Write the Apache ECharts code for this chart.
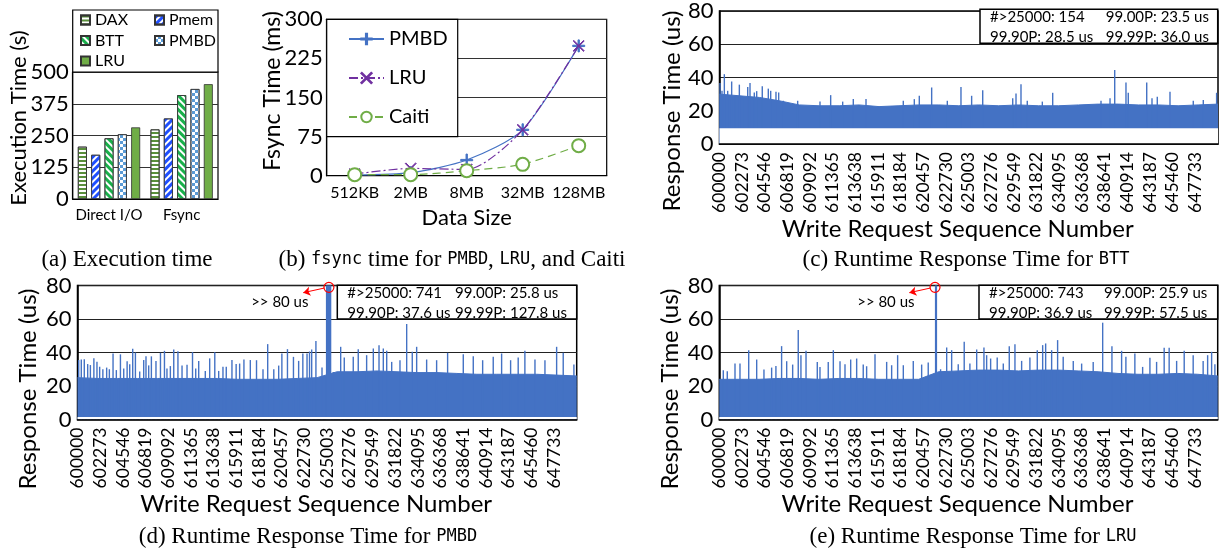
<!DOCTYPE html>
<html>
<head>
<meta charset="utf-8">
<script src="https://cdn.jsdelivr.net/npm/echarts@6.0.0/dist/echarts.min.js"></script>
<style>
html, body { margin: 0; background: #fff; }
#main { width: 1219px; height: 552px; }
</style>
</head>
<body>
<div id="main"></div>
<script>
// (a) execution time
const ioModes = ['Direct I/O', 'Fsync'];
const daxTime = [206, 274];
const pmemTime = [174, 317];
const bttTime = [239, 409];
const pmbdTime = [255, 433];
const lruTime = [282, 452];

// (b) fsync time
const dataSizes = ['512KB', '2MB', '8MB', '32MB', '128MB'];
const pmbdFsync = [1.3, 5.8, 30, 88, 249];
const lruFsync = [3.2, 14, 12, 88, 249];
const caitiFsync = [2, 2, 9.6, 21.8, 57.6];

// (c)(d)(e) runtime response time
const seqTicks = [600000, 602273, 604546, 606819, 609092, 611365, 613638, 615911, 618184, 620457,
	622730, 625003, 627276, 629549, 631822, 634095, 636368, 638641, 640914, 643187, 645460, 647733];
const envSeq = [600000, 602000, 604000, 606000, 608000, 610000, 612000, 614000, 616000, 618000, 620000, 622000, 624000,
	626000, 628000, 630000, 632000, 634000, 636000, 638000, 640000, 642000, 644000, 646000, 648000, 650000];

// BTT
const bttEnvelope = [30, 29, 28, 26, 23.5, 23, 23, 23.5, 22.5, 23, 23.5, 23.5, 23, 23.5, 23, 23.5, 23, 23, 23.5, 24, 24, 23.5, 23.5, 23, 23.5, 24];
const bttFloor = 9.5;
const bttSpikes = [[600050, 36.7], [600250, 32], [600485, 42], [600820, 32], [601220, 37.6], [601555, 29], [601990, 35.7], [602460, 28],
	[602830, 34.3], [603060, 36.7], [603490, 31], [603730, 31.8], [604290, 34.7], [604895, 33.3], [605135, 32], [605665, 31.4],
	[605935, 31], [606400, 26], [607840, 26], [610080, 25.5], [611150, 29.4], [612355, 25.5], [613420, 27], [614695, 27],
	[618435, 26], [619540, 27], [620040, 29], [621280, 34], [622850, 26], [624220, 34.3], [625290, 29], [626400, 32.3],
	[629410, 27.5], [629740, 30.4], [630240, 36], [630870, 26], [632380, 25.5], [633420, 30.8], [638265, 26], [639170, 27.5],
	[639640, 44.5], [640770, 37], [641000, 30.8], [642850, 37], [643380, 27.5], [643910, 28.4], [645185, 31.4], [647520, 26],
	[648525, 26.5], [649860, 30.8]];
const bttStats = ['#>25000: 154', '99.00P: 23.5 us', '99.90P: 28.5 us', '99.99P: 36.0 us'];

// PMBD
const pmbdEnvelope = [25, 24.5, 24.5, 24.5, 24.5, 24.5, 24.5, 24.5, 24, 24, 24, 24.5, 25, 28.5, 28.5, 29, 28.5, 28, 28, 27.5, 27, 27, 27, 27, 26.5, 26];
const pmbdFloor = 1.5;
const pmbdSpikes = [[600120, 35.5], [600380, 35.8], [600680, 35.9], [601020, 33.1], [601290, 32.5], [601640, 36.5], [601950, 34.5],
	[602220, 31.5], [602540, 30], [602920, 31], [603190, 30], [603560, 39.4], [603890, 29.5], [604300, 38.9], [604630, 30.5],
	[604970, 34.8], [605230, 33], [605530, 42.2], [605800, 40], [606230, 28.7], [606630, 35.5], [606860, 37.8], [607130, 32.3],
	[607400, 37.7], [607860, 35], [608310, 39.8], [608710, 41], [608960, 30.5], [609300, 31.9], [609640, 41.8], [610060, 40.8],
	[610470, 32.3], [610970, 32.7], [611520, 40.2], [611840, 30.5], [612140, 35], [612800, 29], [613240, 36.5], [613750, 40.2],
	[614140, 29], [614570, 31.5], [614900, 31.5], [615470, 35.5], [615890, 33.2], [616240, 33.4], [616670, 35.8], [617310, 35.5],
	[617930, 35.4], [618580, 30], [619050, 45], [619660, 30], [620150, 32.2], [620470, 39.4], [621030, 42], [621630, 37.4],
	[622150, 35], [622570, 39.4], [622990, 39.4], [623240, 40.6], [623455, 41.8], [623880, 46.8], [624490, 31],
	[624950, 95], [625050, 95], [625150, 95], [625250, 95], [625350, 95],
	[625620, 28.4], [626360, 43.4], [626720, 37], [627620, 37.4], [628120, 42], [628960, 38.4], [629630, 42.4], [630200, 44.4],
	[630630, 42.4], [630970, 41], [631470, 34.4], [632300, 35.4], [632970, 57], [633530, 40.4], [633970, 43.4], [634970, 35.8],
	[635970, 35.4], [637070, 39.8], [638640, 39], [639640, 37.8], [640580, 35.4], [641640, 37.4], [642480, 39.4], [643380, 35.4],
	[644140, 37], [644810, 41], [645820, 35.8], [646820, 35.4], [647990, 43.4], [648650, 39.8], [649720, 32.8]];
const pmbdStats = ['#>25000: 741', '99.00P: 25.8 us', '99.90P: 37.6 us', '99.99P: 127.8 us'];

// LRU
const lruEnvelope = [24, 24, 24, 24.5, 24.5, 24, 24.5, 24.5, 24, 24, 24, 28.5, 29, 29.5, 29.5, 29, 29.5, 29.5, 29, 28.5, 27.5, 27, 27, 27.5, 27, 26];
const lruFloor = 1.5;
const lruSpikes = [[600400, 29.4], [600800, 28.8], [601575, 33.4], [602075, 33.4], [602950, 41.4], [603750, 35.8], [604480, 29.8],
	[605250, 31], [605680, 32], [606250, 43.8], [606760, 34.8], [607360, 32.8], [607920, 53.4], [608190, 38.4], [608700, 41],
	[609830, 34.4], [610100, 31.4], [610930, 34.4], [611440, 41.4], [612110, 34.8], [612610, 33], [613180, 35.8], [613780, 36.4],
	[614440, 32.8], [614780, 31.8], [615620, 39], [616790, 34.4], [617290, 32.4], [617890, 38.4], [618460, 32.4], [619460, 35],
	[620300, 32.8], [620960, 34], [621700, 95], [621780, 95], [622200, 30], [622810, 43], [623310, 41.4], [623970, 33],
	[624570, 46.4], [625140, 33.4], [625820, 41.8], [626550, 43], [626820, 38.4], [627220, 36.4], [627880, 37], [628490, 33.4],
	[629090, 43.8], [629660, 45], [630330, 35], [631160, 37], [631900, 41.4], [632440, 44.4], [632740, 45.4], [633340, 41.4],
	[633940, 47.4], [634500, 37.4], [635510, 35], [636350, 33.4], [637510, 34.4], [638460, 57.8], [639390, 43.8], [640360, 41],
	[640790, 37.4], [641690, 39.4], [642470, 31.4], [643200, 36.8], [643870, 34.4], [644630, 42.8], [645130, 42.8], [645880, 35],
	[646640, 41], [647540, 38.4], [648540, 35], [648990, 38.4], [649390, 40.4], [649720, 33]];
const lruStats = ['#>25000: 743', '99.00P: 25.9 us', '99.90P: 36.9 us', '99.99P: 57.5 us'];

const blue = '#4472C4';
const sans = 'Lato';
const serif = 'Liberation Serif';
const mono = 'DejaVu Sans Mono';

var chart = echarts.init(document.getElementById('main'));

// plus / cross markers for the fsync lines
const plusPath = 'path://M4.45,0h1.1v10h-1.1z M0,4.45h10v1.1h-10z';
const crossPath = 'path://M0,0.55L0.55,0L10,9.45L9.45,10Z M9.45,0L10,0.55L0.55,10L0,9.45Z';

function barSeries(name, data, itemStyle) {
	return {
		name: name,
		type: 'bar',
		xAxisIndex: 0,
		yAxisIndex: 0,
		data: data,
		barWidth: 9,
		barGap: '48%',
		itemStyle: Object.assign({borderColor: '#333', borderWidth: 0.8}, itemStyle),
		silent: true
	};
}

function fsyncSeries(name, data, color, lineType, symbol, size) {
	return {
		name: name,
		type: 'line',
		xAxisIndex: 1,
		yAxisIndex: 1,
		data: data,
		smooth: 0.25,
		symbol: symbol,
		symbolSize: size,
		lineStyle: {color: color, width: 1.2, type: lineType},
		itemStyle: {color: color, borderColor: color, borderWidth: 1},
		silent: true
	};
}

// body of the trace (area to the envelope), spikes as thin bars, white strip below the floor
function responseSeries(idx, envelope, floor, spikes, note) {
	const spikeSeries = {
		type: 'bar',
		xAxisIndex: idx,
		yAxisIndex: idx,
		data: spikes,
		barWidth: 1.4,
		itemStyle: {color: blue},
		silent: true,
		z: 2
	};
	if (note) {
		spikeSeries.markPoint = {
			silent: true,
			data: [
				{coord: note.circle, symbol: 'circle', symbolSize: 10,
					itemStyle: {color: 'rgba(0,0,0,0)', borderColor: '#ff0000', borderWidth: 1.2}, label: {show: false}},
				{coord: note.text, symbol: 'rect', symbolSize: 1, itemStyle: {color: 'rgba(0,0,0,0)'},
					label: {show: true, position: 'left', distance: 0, formatter: '>> 80 us', color: '#000', fontSize: 15, fontFamily: sans}}
			]
		};
		spikeSeries.markLine = {
			silent: true,
			symbol: ['none', 'arrow'],
			symbolSize: 7,
			label: {show: false},
			lineStyle: {color: '#ff0000', width: 1, type: 'solid'},
			data: [[{coord: note.from}, {coord: note.to}]]
		};
	}
	return [
		{
			type: 'line',
			xAxisIndex: idx,
			yAxisIndex: idx,
			data: envSeq.map((s, i) => [s, envelope[i]]),
			symbol: 'none',
			lineStyle: {color: blue, width: 1},
			areaStyle: {color: blue, opacity: 1},
			silent: true,
			z: 2
		},
		spikeSeries,
		{
			type: 'line',
			xAxisIndex: idx,
			yAxisIndex: idx,
			data: [[600000, floor], [650000, floor]],
			symbol: 'none',
			lineStyle: {width: 0},
			areaStyle: {color: '#fff', opacity: 1},
			silent: true,
			z: 3
		}
	];
}

function seqAxis(idx) {
	return {
		type: 'value',
		gridIndex: idx,
		min: 600000,
		max: 650000,
		name: 'Write Request Sequence Number',
		nameLocation: 'middle',
		nameGap: 63,
		nameTextStyle: {fontSize: 24, fontFamily: sans, color: '#000', padding: [0, 22, 0, 0]},
		axisLine: {lineStyle: {color: '#000', width: 1.5}},
		axisTick: {show: false},
		axisLabel: {customValues: seqTicks, formatter: v => String(v), rotate: 90, fontSize: 17.5, fontFamily: sans, color: '#000', margin: 8},
		splitLine: {show: false},
		z: 10
	};
}

function usAxis(idx) {
	return {
		type: 'value',
		gridIndex: idx,
		min: 0,
		max: 80,
		interval: 20,
		axisLine: {show: true, lineStyle: {color: '#000', width: 1.5}},
		axisTick: {show: false},
		axisLabel: {fontSize: 22, fontFamily: sans, color: '#000', margin: 6},
		splitLine: {lineStyle: {color: '#222', width: 1}}
	};
}

function statBox(x, y, w, h, stats, col2) {
	const t = (s, tx, ty) => ({
		type: 'text', x: tx, y: ty, z: 21,
		style: {text: s, fontSize: 15, fontFamily: sans, fill: '#000', align: 'left', verticalAlign: 'middle',
			textAlign: 'left', textVerticalAlign: 'middle'}
	});
	return [
		{type: 'rect', z: 20, shape: {x: x, y: y, width: w, height: h}, style: {fill: '#fff', stroke: '#000', lineWidth: 1.5}},
		t(stats[0], x + 10, y + 8), t(stats[1], x + col2, y + 8),
		t(stats[2], x + 10, y + 28), t(stats[3], x + col2, y + 28)
	];
}

function vText(s, x, y, size) {
	return {
		type: 'text', x: x, y: y, rotation: Math.PI / 2, z: 20,
		style: {text: s, fontSize: size, fontFamily: sans, fill: '#000', align: 'center', verticalAlign: 'middle',
			textAlign: 'center', textVerticalAlign: 'middle'}
	};
}

function caption(rich, x, y) {
	return {
		type: 'text', x: x, y: y, z: 20,
		style: {
			text: rich, align: 'center', verticalAlign: 'middle', textAlign: 'center', textVerticalAlign: 'middle',
			rich: {
				s: {fontSize: 23, fontFamily: serif, fill: '#000', color: '#000'},
				m: {fontSize: 17, fontFamily: mono, fill: '#000', color: '#000'}
			}
		}
	};
}

const option = {
	backgroundColor: '#fff',
	animation: false,
	grid: [
		{left: 72.7, top: 72, width: 145.3, height: 127, show: true, borderColor: '#000', borderWidth: 1.2},
		{left: 326.7, top: 19.3, width: 280, height: 156.4, show: true, borderColor: '#000', borderWidth: 1.2},
		{left: 719.5, top: 9.3, width: 498.5, height: 134.7, show: true, borderColor: '#000', borderWidth: 1.5},
		{left: 77.5, top: 285.5, width: 499.2, height: 134, show: true, borderColor: '#000', borderWidth: 1.5},
		{left: 719.3, top: 285.5, width: 498.4, height: 134, show: true, borderColor: '#000', borderWidth: 1.5}
	],
	xAxis: [
		{
			type: 'category', gridIndex: 0, data: ioModes,
			axisLine: {lineStyle: {color: '#000', width: 1.2}},
			axisTick: {length: 6, lineStyle: {color: '#000'}},
			axisLabel: {fontSize: 15, fontFamily: sans, color: '#000', margin: 9, interval: 0}
		},
		{
			type: 'category', gridIndex: 1, data: dataSizes,
			name: 'Data Size', nameLocation: 'middle', nameGap: 31,
			nameTextStyle: {fontSize: 22, fontFamily: sans, color: '#000'},
			axisLine: {lineStyle: {color: '#000', width: 1.2}},
			axisTick: {alignWithLabel: true, length: 5, lineStyle: {color: '#000'}},
			axisLabel: {fontSize: 16, fontFamily: sans, color: '#000', margin: 9, interval: 0}
		},
		seqAxis(2), seqAxis(3), seqAxis(4)
	],
	yAxis: [
		{
			type: 'value', gridIndex: 0, min: 0, max: 500, interval: 125,
			axisLine: {show: true, lineStyle: {color: '#000', width: 1.2}},
			axisTick: {show: false},
			axisLabel: {fontSize: 22, fontFamily: sans, color: '#000', margin: 4},
			splitLine: {lineStyle: {color: '#333', width: 1}}
		},
		{
			type: 'value', gridIndex: 1, min: 0, max: 300, interval: 75,
			axisLine: {show: true, lineStyle: {color: '#000', width: 1.2}},
			axisTick: {show: false},
			axisLabel: {fontSize: 22, fontFamily: sans, color: '#000', margin: 4},
			splitLine: {lineStyle: {color: '#333', width: 1}}
		},
		usAxis(2), usAxis(3), usAxis(4)
	],
	legend: [
		{
			data: ['DAX', 'BTT', 'LRU'], orient: 'vertical', left: 80, top: 12, padding: 0,
			itemWidth: 9, itemHeight: 9, itemGap: 4.5, icon: 'rect', selectedMode: false,
			textStyle: {fontSize: 16, fontFamily: sans, color: '#000', lineHeight: 16}, z: 10
		},
		{
			data: ['Pmem', 'PMBD'], orient: 'vertical', left: 154, top: 12, padding: 0,
			itemWidth: 9, itemHeight: 9, itemGap: 4.5, icon: 'rect', selectedMode: false,
			textStyle: {fontSize: 16, fontFamily: sans, color: '#000', lineHeight: 16}, z: 10
		},
		{
			data: ['fsync-PMBD', 'fsync-LRU', 'fsync-Caiti'], orient: 'vertical', left: 348, top: 29, padding: 0,
			itemWidth: 35, itemHeight: 13, itemGap: 19, selectedMode: false,
			formatter: name => name.replace('fsync-', ''),
			textStyle: {fontSize: 20, fontFamily: sans, color: '#000', lineHeight: 20}, z: 10
		}
	],
	series: [
		barSeries('DAX', daxTime, {color: '#fff',
			decal: {symbol: 'rect', symbolSize: 1, color: '#5a8f3c', dashArrayX: [1, 0], dashArrayY: [2, 2], rotation: 0}}),
		barSeries('Pmem', pmemTime, {color: '#fff',
			decal: {symbol: 'rect', symbolSize: 1, color: '#1f4fff', dashArrayX: [1, 0], dashArrayY: [2.5, 2], rotation: -Math.PI / 4}}),
		barSeries('BTT', bttTime, {color: '#fff',
			decal: {symbol: 'rect', symbolSize: 1, color: '#19b04b', dashArrayX: [1, 0], dashArrayY: [2.5, 2], rotation: Math.PI / 4}}),
		barSeries('PMBD', pmbdTime, {color: '#fff',
			decal: {symbol: 'rect', symbolSize: 1, color: '#5b9bd5', dashArrayX: [[3, 3], [0, 3, 3, 0]], dashArrayY: [3, 0], rotation: 0}}),
		barSeries('LRU', lruTime, {color: '#70ad47'}),

		fsyncSeries('fsync-PMBD', pmbdFsync, '#4472c4', 'solid', plusPath, 12),
		fsyncSeries('fsync-LRU', lruFsync, '#7030a0', [9, 3, 2, 3], crossPath, 11),
		fsyncSeries('fsync-Caiti', caitiFsync, '#70ad47', [8, 5], 'emptyCircle', 13)
	]
		.concat(responseSeries(2, bttEnvelope, bttFloor, bttSpikes, null))
		.concat(responseSeries(3, pmbdEnvelope, pmbdFloor, pmbdSpikes,
			{circle: [625180, 78.9], from: [624737, 78.5], to: [622610, 75.7], text: [623185, 70.3]}))
		.concat(responseSeries(4, lruEnvelope, lruFloor, lruSpikes,
			{circle: [621640, 78.9], from: [621190, 78.5], to: [619063, 75.7], text: [619635, 70.3]})),
	graphic: {
		elements: [
			// legend frames
			{type: 'rect', z: 3, shape: {x: 72.7, y: 10, width: 145.3, height: 62}, style: {fill: '#fff', stroke: '#000', lineWidth: 1.2}},
			{type: 'rect', z: 3, shape: {x: 326.7, y: 19.3, width: 131, height: 117.4}, style: {fill: '#fff', stroke: '#000', lineWidth: 1.2}},
			// y axis titles
			vText('Execution Time (s)', 19.3, 118, 22),
			vText('Fsync Time (ms)', 273, 91, 23),
			vText('Response Time (us)', 672, 111, 24),
			vText('Response Time (us)', 28, 389, 24),
			vText('Response Time (us)', 670, 389, 24),
			// captions
			caption('{s|(a) Execution time}', 127, 260),
			caption('{s|(b) }{m|fsync}{s| time for }{m|PMBD}{s|, }{m|LRU}{s|, and Caiti}', 452, 260),
			caption('{s|(c) Runtime Response Time for }{m|BTT}', 966, 260),
			caption('{s|(d) Runtime Response Time for }{m|PMBD}', 308, 537),
			caption('{s|(e) Runtime Response Time for }{m|LRU}', 973, 537)
		]
			.concat(statBox(980, 9.3, 237.7, 34, bttStats, 125.7))
			.concat(statBox(337.3, 285.3, 239.4, 33.7, pmbdStats, 117.7))
			.concat(statBox(979, 285.3, 238.7, 33.7, lruStats, 125))
	}
};

chart.setOption(option);
</script>
</body>
</html>
